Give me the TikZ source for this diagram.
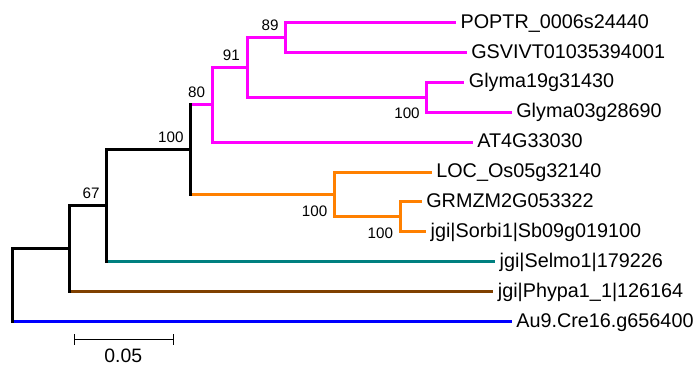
\documentclass[tikz,border=0pt]{standalone}
\usepackage{fontspec}
\setmainfont{Liberation Sans}
\definecolor{mag}{RGB}{255,0,255}
\definecolor{org}{RGB}{255,128,0}
\definecolor{tealc}{RGB}{0,128,128}
\definecolor{brn}{RGB}{128,64,0}
\definecolor{blu}{RGB}{0,0,255}
\tikzset{
  br/.style={line width=1.5pt},
  vt/.style={line width=1.5pt, line cap=rect},
  leaf/.style={anchor=base west, font=\fontsize{9.9}{12}\selectfont, inner sep=0pt, xshift=2.1pt, yshift=-2.8pt},
  boot/.style={anchor=base east, font=\fontsize{7.6}{9}\selectfont, inner sep=0pt},
  bootup/.style={boot, xshift=-3.4pt, yshift=3.5pt},
  bootdn/.style={boot, xshift=-3.3pt, yshift=-10.85pt},
  scalebar/.style={line width=0.5pt}
}
\begin{document}
\begin{tikzpicture}[x=0.5pt, y=-0.5pt]
\useasboundingbox (0,0) rectangle (695,365);
% leaf tips
\coordinate (t1) at (456,22.5);
\coordinate (t2) at (466.7,52.4);
\coordinate (t3) at (464.3,82.3);
\coordinate (t4) at (511.7,112.2);
\coordinate (t5) at (472.7,142.1);
\coordinate (t6) at (431.7,172);
\coordinate (t7) at (421.7,201.9);
\coordinate (t8) at (426,231.8);
\coordinate (t9) at (495,261.7);
\coordinate (t10) at (493.3,291.6);
\coordinate (t11) at (511.7,321.5);
% internal nodes
\coordinate (F) at (285.7,37.45);
\coordinate (G) at (426.7,97.25);
\coordinate (E) at (247,67.35);
\coordinate (D) at (212.3,104.7);
\coordinate (I) at (400,216.85);
\coordinate (H) at (334.3,194.4);
\coordinate (C) at (190.7,149.5);
\coordinate (B) at (106.7,205.6);
\coordinate (A) at (69.3,248.6);
\coordinate (R) at (12.3,285);
% leaf labels
\node[leaf] (l1) at (t1) {POPTR\_0006s24440};
\node[leaf] (l2) at (t2) {GSVIVT01035394001};
\node[leaf] (l3) at (t3) {Glyma19g31430};
\node[leaf] (l4) at (t4) {Glyma03g28690};
\node[leaf] (l5) at (t5) {AT4G33030};
\node[leaf] (l6) at (t6) {LOC\_Os05g32140};
\node[leaf] (l7) at (t7) {GRMZM2G053322};
\node[leaf] (l8) at (t8) {jgi|Sorbi1|Sb09g019100};
\node[leaf] (l9) at (t9) {jgi|Selmo1|179226};
\node[leaf] (l10) at (t10) {jgi|Phypa1\_1|126164};
\node[leaf] (l11) at (t11) {Au9.Cre16.g656400};
% horizontal branches
\draw[br, mag] (F |- t1) -- (t1);
\draw[br, mag] (F |- t2) -- (t2);
\draw[br, mag] (G |- t3) -- (t3);
\draw[br, mag] (G |- t4) -- (t4);
\draw[br, mag] (E |- F) -- (F);
\draw[br, mag] (E |- G) -- (G);
\draw[br, mag] (D |- E) -- (E);
\draw[br, mag] (D |- t5) -- (t5);
\draw[br, org] (I |- t7) -- (t7);
\draw[br, org] (I |- t8) -- (t8);
\draw[br, org] (H |- t6) -- (t6);
\draw[br, org] (H |- I) -- (I);
\draw[br, mag] (C |- D) -- (D);
\draw[br, org] (C |- H) -- (H);
\draw[br, black] (B |- C) -- (C);
\draw[br, tealc] (B |- t9) -- (t9);
\draw[br, black] (A |- B) -- (B);
\draw[br, brn] (A |- t10) -- (t10);
\draw[br, black] (R |- A) -- (A);
\draw[br, blu] (R |- t11) -- (t11);
% vertical branches
\draw[vt, mag] (F |- t1) -- (F |- t2);
\draw[vt, mag] (G |- t3) -- (G |- t4);
\draw[vt, mag] (E |- F) -- (E |- G);
\draw[vt, mag] (D |- E) -- (D |- t5);
\draw[vt, org] (I |- t7) -- (I |- t8);
\draw[vt, org] (H |- t6) -- (H |- I);
\draw[vt, black] (C |- D) -- (C |- H);
\draw[vt, black] (B |- C) -- (B |- t9);
\draw[vt, black] (A |- B) -- (A |- t10);
\draw[vt, black] (R |- A) -- (R |- t11);
% bootstrap values
\node[bootup] (bF) at (F) {89};
\node[bootup] (bE) at (E) {91};
\node[bootup] (bD) at (D) {80};
\node[bootup] (bC) at (C) {100};
\node[bootup] (bB) at (B) {67};
\node[bootdn] (bG) at (G) {100};
\node[bootdn] (bH) at (H) {100};
\node[bootdn] (bI) at (I) {100};
% scale bar
\coordinate (s1) at (74.7,339.3);
\coordinate (s2) at (173.7,339.3);
\draw[scalebar] (s1) -- (s2);
\draw[scalebar] ([yshift=2.65pt]s1) -- ([yshift=-2.65pt]s1);
\draw[scalebar] ([yshift=2.65pt]s2) -- ([yshift=-2.65pt]s2);
\node[anchor=base, inner sep=0pt, font=\fontsize{9.7}{12}\selectfont] (sl) at (123.3,362.7) {0.05};
\end{tikzpicture}
\end{document}
